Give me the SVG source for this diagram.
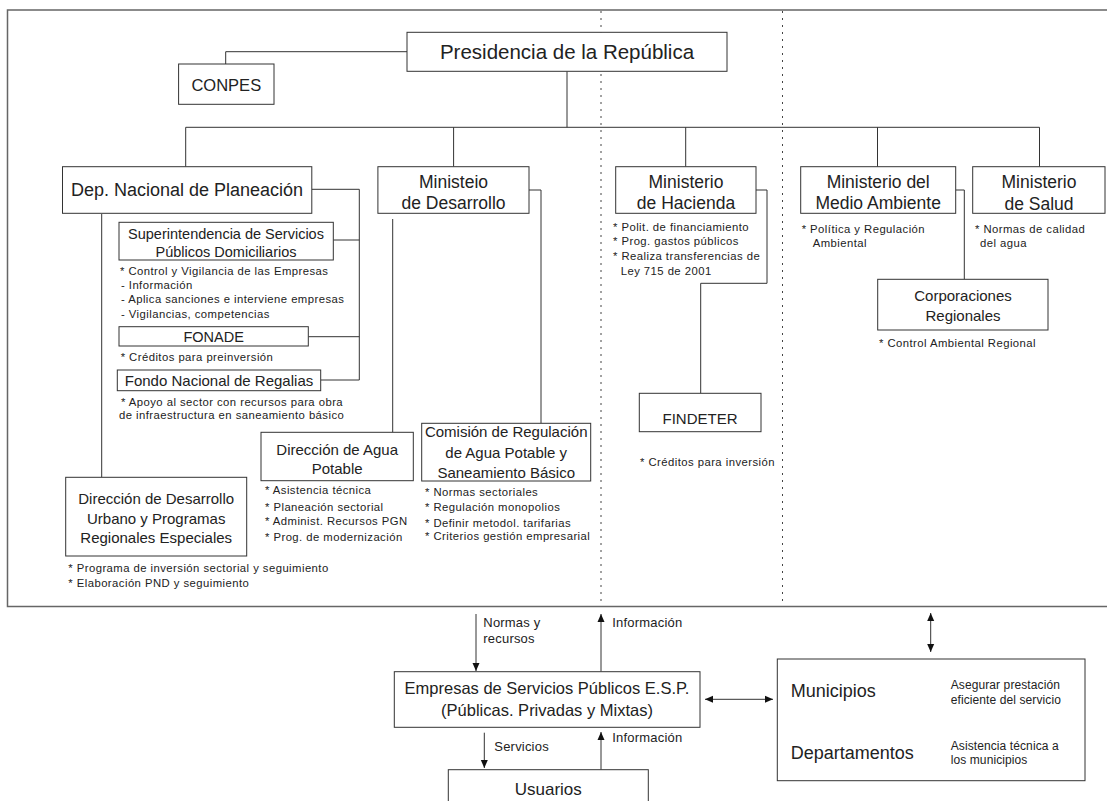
<svg xmlns="http://www.w3.org/2000/svg" width="1107" height="801" viewBox="0 0 1107 801">
<style>
text{font-family:"Liberation Sans",Arial,sans-serif;fill:#222}
.box{fill:#fff;stroke:#333;stroke-width:1}
.ln{fill:none;stroke:#333;stroke-width:1}
.dot{stroke:#444;stroke-width:1;stroke-dasharray:2,5}
.t20{font-size:20.5px;text-anchor:middle}
.t18{font-size:17.5px;text-anchor:middle}
.t15{font-size:15px;text-anchor:middle}
.t14{font-size:14.5px;text-anchor:middle}
.b{font-size:11.3px;letter-spacing:0.45px}
.a{font-size:13px;letter-spacing:0.2px}
.m{font-size:18px}
.s{font-size:12px;letter-spacing:0.1px}
</style>
<defs>
<marker id="arr" markerUnits="userSpaceOnUse" markerWidth="8" markerHeight="8" refX="8" refY="4" orient="auto-start-reverse" viewBox="0 0 8 8"><path d="M0,0.5 L8,4 L0,7.5 z" fill="#111"/></marker>
</defs>
<rect x="7.5" y="10" width="1110" height="596.5" fill="none" stroke="#666" stroke-width="1.5"/>
<line class="dot" x1="601" y1="11" x2="601" y2="606"/>
<line class="dot" x1="782.5" y1="11" x2="782.5" y2="606"/>

<g id="connectors">
<path class="ln" d="M407,51.7 H225.7 V64"/>
<path class="ln" d="M567,71.3 V127.3"/>
<path class="ln" d="M185.7,127.3 H1039.5"/>
<path class="ln" d="M185.7,127.3 V166.7 M453.6,127.3 V166.7 M685.7,127.3 V166.7 M877.5,127.3 V166.7 M1039.5,127.3 V166.7"/>
<path class="ln" d="M311.8,189.3 H359.3 V380 H320.7 M333.3,240 H359.3 M308.3,336.7 H359.3"/>
<path class="ln" d="M101.7,214 V477.3"/>
<path class="ln" d="M392.7,219 V432.3"/>
<path class="ln" d="M529,190 H541 V423.3"/>
<path class="ln" d="M756,190 H767 V283.3 H700.7 V393.3"/>
<path class="ln" d="M955.7,190 H964.3 V279.3"/>
<line class="ln" x1="476" y1="614" x2="476" y2="671" marker-end="url(#arr)"/>
<line class="ln" x1="601" y1="671.5" x2="601" y2="614" marker-end="url(#arr)"/>
<line class="ln" x1="484.3" y1="732.7" x2="484.3" y2="768" marker-end="url(#arr)"/>
<line class="ln" x1="601" y1="769.7" x2="601" y2="732" marker-end="url(#arr)"/>
<line class="ln" x1="705" y1="699.3" x2="773" y2="699.3" marker-start="url(#arr)" marker-end="url(#arr)"/>
<line class="ln" x1="930.7" y1="613" x2="930.7" y2="652" marker-start="url(#arr)" marker-end="url(#arr)"/>
<text class="a" x="483.3" y="627">Normas y</text>
<text class="a" x="483.3" y="643">recursos</text>
<text class="a" x="612.3" y="627">Información</text>
<text class="a" x="494.3" y="751">Servicios</text>
<text class="a" x="612.3" y="742">Información</text>
</g>

<g id="presidencia">
<rect class="box" x="407" y="32.3" width="320" height="39"/>
<text class="t20" x="567" y="58.5">Presidencia de la República</text>
</g>
<g id="conpes">
<rect class="box" x="178.6" y="64" width="95.4" height="40.3"/>
<text class="t18" x="226.3" y="91" style="font-size:16.5px">CONPES</text>
</g>

<g id="dnp">
<rect class="box" x="62.5" y="166.7" width="249.3" height="46.6"/>
<text class="t18" x="187" y="196" style="font-size:18px">Dep. Nacional de Planeación</text>
</g>
<g id="superintendencia">
<rect class="box" x="119" y="222.3" width="214.3" height="37.7"/>
<text class="t14" x="226" y="239">Superintendencia de Servicios</text>
<text class="t14" x="226" y="257">Públicos Domiciliarios</text>
<text class="b" x="120" y="275">* Control y Vigilancia de las Empresas</text>
<text class="b" x="121" y="289">- Información</text>
<text class="b" x="121" y="303">- Aplica sanciones e interviene empresas</text>
<text class="b" x="121" y="318">- Vigilancias, competencias</text>
</g>
<g id="fonade">
<rect class="box" x="119" y="326.7" width="189.3" height="19.3"/>
<text class="t14" x="213.7" y="342">FONADE</text>
<text class="b" x="120.7" y="360.5">*  Créditos para preinversión</text>
</g>
<g id="fondo">
<rect class="box" x="117.3" y="370" width="203.4" height="20.7"/>
<text class="t14" x="219" y="385.5" style="font-size:15px">Fondo Nacional de Regalias</text>
<text class="b" x="121" y="405.5">*  Apoyo al sector con recursos para obra</text>
<text class="b" x="119" y="419">de infraestructura en saneamiento básico</text>
</g>
<g id="desarrollo-urbano">
<rect class="box" x="65.7" y="477.3" width="181" height="78.7"/>
<text class="t15" x="156.2" y="504">Dirección de Desarrollo</text>
<text class="t15" x="156.2" y="523.5">Urbano y Programas</text>
<text class="t15" x="156.2" y="543">Regionales Especiales</text>
<text class="b" x="68.3" y="572">*  Programa de inversión sectorial y seguimiento</text>
<text class="b" x="68.3" y="586.5">*  Elaboración PND y seguimiento</text>
</g>

<g id="min-desarrollo">
<rect class="box" x="377.9" y="166.7" width="151.1" height="46.6"/>
<text class="t18" x="453.5" y="187.5">Ministeio</text>
<text class="t18" x="453.5" y="208.5">de Desarrollo</text>
</g>
<g id="agua-potable">
<rect class="box" x="261" y="432.3" width="152.3" height="48.4"/>
<text class="t15" x="337.2" y="455">Dirección de Agua</text>
<text class="t15" x="337.2" y="474">Potable</text>
<text class="b" x="265" y="494">*  Asistencia técnica</text>
<text class="b" x="265" y="510.5">*  Planeación sectorial</text>
<text class="b" x="265" y="524.5">*  Administ.  Recursos PGN</text>
<text class="b" x="265" y="540.5">*  Prog. de modernización</text>
</g>
<g id="comision">
<rect class="box" x="421.7" y="423.3" width="169" height="57.7"/>
<text class="t15" x="506.2" y="437">Comisión de Regulación</text>
<text class="t15" x="506.2" y="457.5">de Agua Potable y</text>
<text class="t15" x="506.2" y="477.5">Saneamiento Básico</text>
<text class="b" x="425" y="496">*  Normas sectoriales</text>
<text class="b" x="425" y="511">*  Regulación monopolios</text>
<text class="b" x="425" y="526.5">*  Definir metodol. tarifarias</text>
<text class="b" x="425" y="540">*  Criterios gestión empresarial</text>
</g>

<g id="hacienda">
<rect class="box" x="615.7" y="166.7" width="140.3" height="46.6"/>
<text class="t18" x="686" y="187.5">Ministerio</text>
<text class="t18" x="686" y="208.5">de Hacienda</text>
<text class="b" x="613" y="230.5">*  Polit. de financiamiento</text>
<text class="b" x="613" y="245">*  Prog. gastos públicos</text>
<text class="b" x="613" y="260">*  Realiza transferencias de</text>
<text class="b" x="620.7" y="274.5">Ley 715 de 2001</text>
</g>
<g id="findeter">
<rect class="box" x="639.3" y="393.3" width="121.7" height="38.4"/>
<text class="t15" x="700" y="423.5">FINDETER</text>
<text class="b" x="640" y="465.5">*  Créditos para inversión</text>
</g>

<g id="medio-ambiente">
<rect class="box" x="800.7" y="166.7" width="155" height="46.6"/>
<text class="t18" x="878.2" y="187.5">Ministerio del</text>
<text class="t18" x="878.2" y="208.5">Medio Ambiente</text>
<text class="b" x="801.7" y="233">*  Política y Regulación</text>
<text class="b" x="812.7" y="247">Ambiental</text>
</g>
<g id="corporaciones">
<rect class="box" x="877.7" y="279.3" width="170.3" height="50.7"/>
<text class="t15" x="963" y="300.5">Corporaciones</text>
<text class="t15" x="963" y="320.5">Regionales</text>
<text class="b" x="879" y="347">*  Control Ambiental Regional</text>
</g>
<g id="salud">
<rect class="box" x="972.7" y="166.7" width="132.3" height="46.6"/>
<text class="t18" x="1039" y="188">Ministerio</text>
<text class="t18" x="1039" y="209.5">de Salud</text>
<text class="b" x="975" y="233">*  Normas de calidad</text>
<text class="b" x="980" y="247">del agua</text>
</g>

<g id="empresas">
<rect class="box" x="394.3" y="671.7" width="305.7" height="55.6"/>
<text class="t15" x="547" y="694" style="font-size:16.5px">Empresas de Servicios Públicos E.S.P.</text>
<text class="t15" x="547" y="716" style="font-size:16.5px">(Públicas. Privadas y Mixtas)</text>
</g>
<g id="usuarios">
<rect class="box" x="448.3" y="769.7" width="200" height="40"/>
<text class="t15" x="548.3" y="795" style="font-size:17px">Usuarios</text>
</g>
<g id="municipios">
<rect class="box" x="777.3" y="659" width="307.7" height="121.7"/>
<text class="m" x="790.7" y="697">Municipios</text>
<text class="m" x="790.7" y="759">Departamentos</text>
<text class="s" x="950.7" y="689">Asegurar prestación</text>
<text class="s" x="950.7" y="703.5">eficiente del servicio</text>
<text class="s" x="950.7" y="750">Asistencia técnica a</text>
<text class="s" x="950.7" y="764">los municipios</text>
</g>
</svg>
